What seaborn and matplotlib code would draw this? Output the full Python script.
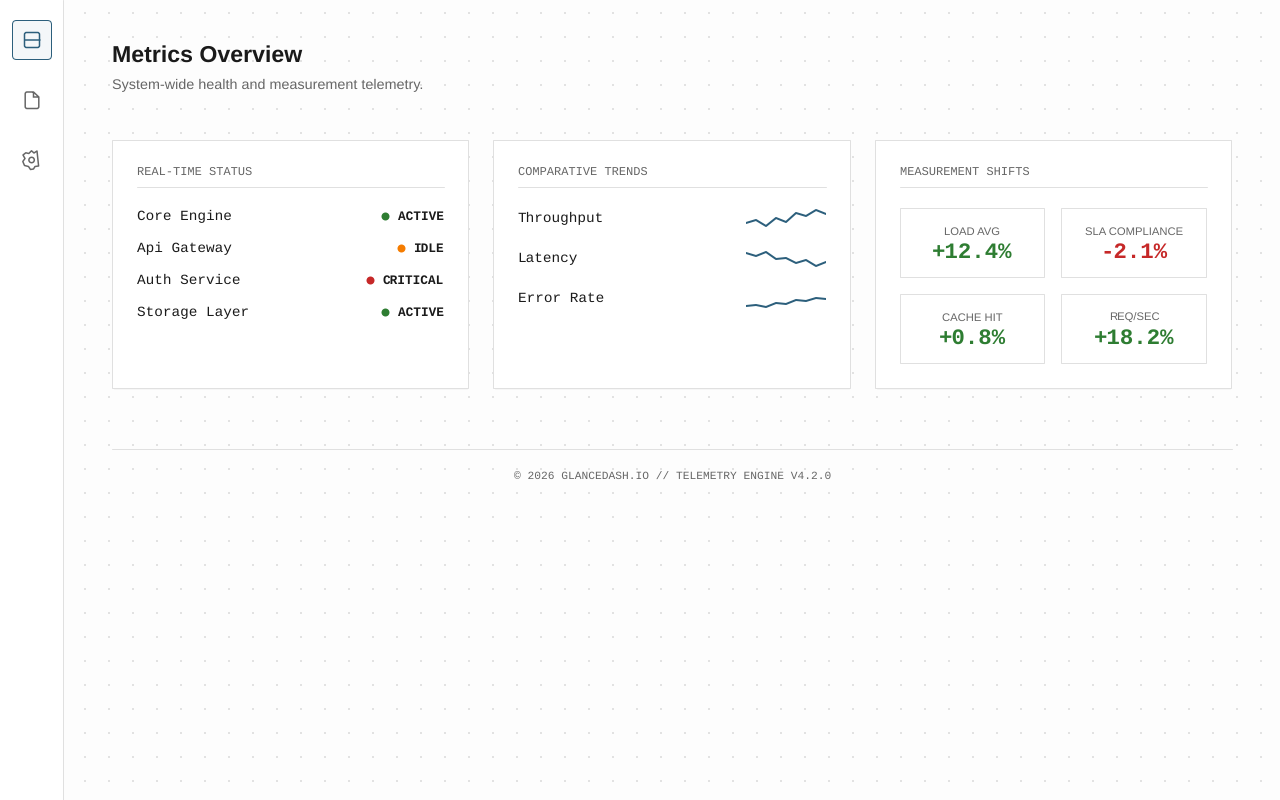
import numpy as np
import pandas as pd
import seaborn as sns
import matplotlib
matplotlib.use('Agg')
import matplotlib.pyplot as plt
from matplotlib.patches import Rectangle, FancyBboxPatch, PathPatch, Polygon
from matplotlib.path import Path

sns.set_theme(style='white')
plt.rcParams['font.family'] = ['Liberation Sans', 'DejaVu Sans']
plt.rcParams['text.hinting'] = 'no_hinting'

GREEN, ORANGE, RED = '#2e7d32', '#f57c00', '#c62828'
ACCENT = '#2c5f7c'
BORDER = '#e0e0e0'
GREY = '#666666'
INK = '#1a1a1a'
MONO = 'Liberation Mono'

services = ['Core Engine', 'Api Gateway', 'Auth Service', 'Storage Layer']
service_states = ['ACTIVE', 'IDLE', 'CRITICAL', 'ACTIVE']
state_colors = {'ACTIVE': GREEN, 'IDLE': ORANGE, 'CRITICAL': RED}

trend_names = ['Throughput', 'Latency', 'Error Rate']
throughput = [10, 13, 7, 15, 11, 20, 17, 23, 19]
latency = [20, 17, 21, 14, 15, 10, 13, 7, 11]
error_rate = [7, 8, 6, 10, 9, 13, 12, 15, 14]

shift_labels = ['LOAD AVG', 'SLA COMPLIANCE', 'CACHE HIT', 'REQ/SEC']
shift_values = ['+12.4%', '-2.1%', '+0.8%', '+18.2%']
shift_colors = [GREEN, RED, GREEN, GREEN]

fig = plt.figure(figsize=(12.8, 8), dpi=100, facecolor='#fdfdfd')
ax = fig.add_axes([0, 0, 1, 1])
ax.set_xlim(0, 1280)
ax.set_ylim(800, 0)
ax.axis('off')

def px(v):
    return v * 0.72

# dotted page background
gx, gy = np.meshgrid(np.arange(84, 1280, 24), np.arange(12, 800, 24))
ax.scatter(gx.ravel() + 0.5, gy.ravel() + 0.5, s=1.0, marker='s', color='#e2e2e2', linewidths=0, zorder=0)

# sidebar
ax.add_patch(Rectangle((0, 0), 63, 800, fc='white', ec='none', zorder=1))
ax.plot([63, 63], [0, 800], color=BORDER, lw=px(1), zorder=2)
ax.add_patch(FancyBboxPatch((12.5, 20.5), 39, 39, boxstyle='round,pad=0,rounding_size=4',
                            fc='#f4f7f9', ec=ACCENT, lw=px(1), zorder=2))
ax.add_patch(FancyBboxPatch((24.5, 32.5), 15, 15, boxstyle='round,pad=0,rounding_size=2',
                            fc='none', ec=ACCENT, lw=px(1.5), zorder=3))
ax.plot([24.5, 39.5], [40, 40], color=ACCENT, lw=px(1.5), zorder=3)

# file icon
M, L, C = Path.MOVETO, Path.LINETO, Path.CURVE3
file_v = [(33.5, 92), (27, 92), (25.2, 92), (25.2, 94), (25.2, 106.5), (25.2, 108.5), (27, 108.5),
          (37, 108.5), (38.8, 108.5), (38.8, 106.5), (38.8, 97), (33.5, 92), (33.5, 97), (38.8, 97)]
file_c = [M, L, C, C, L, C, C, L, C, C, L, L, L, L]
ax.add_patch(PathPatch(Path(file_v, file_c), fc='none', ec=GREY, lw=px(1.5), zorder=3))

# gear icon, the outline is lopsided in the original
gear = [(37, 151), (38.6, 166), (35, 166.5), (33.5, 169), (30.5, 169.5), (28.5, 166.5), (24.5, 165.5),
        (22.8, 161.5), (25, 158.5), (23, 155), (25.8, 152.8), (28.8, 153.5), (31.5, 150.8), (34, 153)]
ax.add_patch(Polygon(gear, closed=True, fc='none', ec=GREY, lw=px(1.5), joinstyle='round', zorder=3))
ax.add_patch(plt.Circle((31.6, 160), 2.7, fc='none', ec=GREY, lw=px(1.5), zorder=3))

# header
ax.text(112, 62, 'Metrics Overview', fontsize=px(23.1), fontweight='bold', color=INK, va='baseline', ha='left', zorder=3)
ax.text(112, 89, 'System-wide health and measurement telemetry.', fontsize=px(14.4), color=GREY, va='baseline', ha='left', zorder=3)

# cards
cards = [(112, 469, 'REAL-TIME STATUS'), (493, 851, 'COMPARATIVE TRENDS'), (875, 1232, 'MEASUREMENT SHIFTS')]
for x0, x1, title in cards:
    ax.plot([x0 + 2, x1 - 2], [389, 389], color='#f6f6f6', lw=px(1), zorder=1)
    ax.add_patch(Rectangle((x0, 140), x1 - x0 - 1, 248, fc='white', ec=BORDER, lw=px(1), zorder=2))
    ax.text(x0 + 25, 172, title, family=MONO, fontsize=px(12), color=GREY, va='center', ha='left', zorder=3)
    ax.plot([x0 + 25, x1 - 25], [187, 187], color=BORDER, lw=px(1), zorder=3)

# status rows
for i, (name, state) in enumerate(zip(services, service_states)):
    y = 216 + 32 * i
    ax.text(137, y, name, family=MONO, fontsize=px(14.4), color=INK, va='center', ha='left', zorder=3)
    ax.text(444, y + 0.7, state, family=MONO, fontsize=px(12.8), fontweight='bold', color=INK, va='center', ha='right', zorder=3)
    dot_x = 443.5 - len(state) * 7.68 - 8 - 4
    ax.scatter([dot_x], [y - 0.5], s=px(8) ** 2, color=state_colors[state], linewidths=0, zorder=3)

# trend rows
for i, (name, values) in enumerate(zip(trend_names, [throughput, latency, error_rate])):
    top = 203 + 40 * i
    ax.text(517.6, top + 15, name, family=MONO, fontsize=px(14.4), color=INK, va='center', ha='left', zorder=3)
    spark = fig.add_axes([746 / 1280, 1 - (top + 30) / 800, 80 / 1280, 30 / 800])
    df = pd.DataFrame({'step': range(len(values)), 'value': values})
    sns.lineplot(data=df, x='step', y='value', ax=spark, color=ACCENT, lw=px(2), legend=False)
    spark.set_xlim(0, len(values) - 1)
    spark.set_ylim(0, 30)
    spark.axis('off')

# shift tiles
tile_x = [(900, 1045), (1061, 1207)]
tile_y = [(208, 278), (294, 364)]
for k, (label, value, color) in enumerate(zip(shift_labels, shift_values, shift_colors)):
    x0, x1 = tile_x[k % 2]
    y0, y1 = tile_y[k // 2]
    ax.add_patch(Rectangle((x0, y0), x1 - x0 - 1, y1 - y0 - 1, fc='white', ec=BORDER, lw=px(1), zorder=3))
    ax.text((x0 + x1) / 2, y0 + 24.5, label, fontsize=px(11.2), color=GREY, va='center', ha='center', zorder=4)
    ax.text((x0 + x1) / 2, y0 + 44, value, family=MONO, fontsize=px(22.4), fontweight='bold', color=color, va='center', ha='center', zorder=4)

# footer
ax.plot([112, 1232], [449, 449], color=BORDER, lw=px(1), zorder=2)
ax.text(672.3, 476.6, '© 2026 GLANCEDASH.IO // TELEMETRY ENGINE V4.2.0', family=MONO, fontsize=px(11.2), color=GREY, va='center', ha='center', zorder=3)

fig.savefig('out.png', dpi=100, facecolor=fig.get_facecolor())
